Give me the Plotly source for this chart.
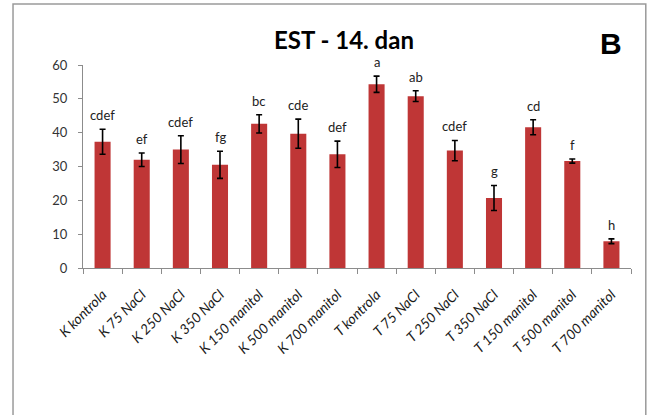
import plotly.graph_objects as go

# Treatments (K = control line, T = treated line) and measured EST activity on day 14
categories = [
    "K kontrola", "K 75 NaCl", "K 250 NaCl", "K 350 NaCl",
    "K 150 manitol", "K 500 manitol", "K 700 manitol",
    "T kontrola", "T 75 NaCl", "T 250 NaCl", "T 350 NaCl",
    "T 150 manitol", "T 500 manitol", "T 700 manitol",
]
means = [37.3, 32.0, 35.0, 30.5, 42.6, 39.7, 33.6, 54.3, 50.8, 34.7, 20.7, 41.6, 31.6, 7.9]
errors = [3.7, 2.0, 4.1, 4.0, 2.7, 4.3, 3.9, 2.4, 1.6, 3.0, 3.7, 2.2, 0.6, 0.7]
letters = ["cdef", "ef", "cdef", "fg", "bc", "cde", "def",
           "a", "ab", "cdef", "g", "cd", "f", "h"]

y_ticks = [0, 10, 20, 30, 40, 50, 60]

AXIS_GREY = "#8c8c8c"
BAR_RED = "#bf3636"
FONT = "Lato"

fig = go.Figure()
fig.add_trace(go.Bar(
    x=categories,
    y=means,
    width=0.41,
    marker=dict(color=BAR_RED, line=dict(width=0)),
    error_y=dict(type="data", array=errors, visible=True,
                 color="black", thickness=1.6, width=3),
    showlegend=False,
    hoverinfo="x+y",
))

# Significance letters above each error bar
for cat, m, e, lab in zip(categories, means, errors, letters):
    fig.add_annotation(
        x=cat, y=m + e, text=lab, showarrow=False,
        yanchor="bottom", yshift=4,
        font=dict(family=FONT, size=13, color="#222222"),
    )

# Chart title and panel letter
fig.add_annotation(
    xref="paper", yref="paper", x=0.476, y=1.128,
    text="<b>EST - 14. dan</b>", showarrow=False,
    xanchor="center", yanchor="middle",
    font=dict(family=FONT, size=24, color="black"),
)
fig.add_annotation(
    xref="paper", yref="paper", x=0.9635, y=1.108,
    text="<b>B</b>", showarrow=False,
    xanchor="center", yanchor="middle",
    font=dict(family="Liberation Sans", size=30, color="black"),
)

# Outer chart frame
fig.add_shape(
    type="rect", xref="paper", yref="paper",
    x0=-0.1277, x1=1.027, y0=-0.78, y1=1.300,
    line=dict(color="#9a9a9a", width=1.5), fillcolor="rgba(0,0,0,0)",
    layer="below",
)

fig.update_layout(
    width=649, height=415,
    margin=dict(l=83, r=18, t=65, b=147),
    paper_bgcolor="white", plot_bgcolor="white",
    bargap=0.59,
    font=dict(family=FONT, size=13, color="#333333"),
)
fig.update_xaxes(
    type="category",
    showline=True, linecolor=AXIS_GREY, linewidth=1,
    ticks="outside", tickson="boundaries", ticklen=5, tickcolor=AXIS_GREY,
    tickangle=-45,
    ticklabelstandoff=12,
    tickfont=dict(family=FONT, size=14, color="#1a1a1a", style="italic"),
    showgrid=False, zeroline=False,
)
fig.update_yaxes(
    range=[0, 60], tickvals=y_ticks,
    showline=True, linecolor=AXIS_GREY, linewidth=1,
    ticks="outside", ticklen=4, tickcolor=AXIS_GREY,
    ticklabelstandoff=8,
    tickfont=dict(family=FONT, size=13, color="#333333"),
    showgrid=False, zeroline=False,
)

fig.write_html("out.html")
